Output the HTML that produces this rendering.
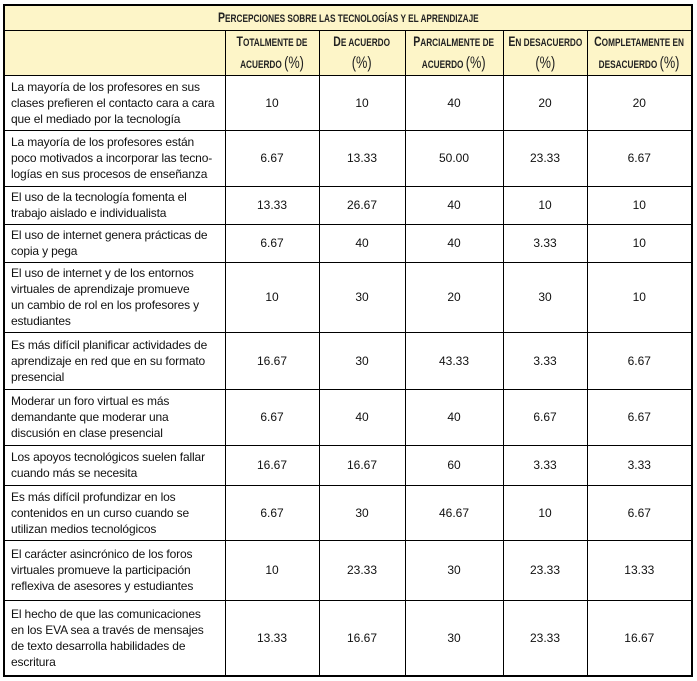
<!DOCTYPE html>
<html><head><meta charset="utf-8"><style>
body{margin:0;background:#fff;width:697px;height:681px;overflow:hidden}
table{position:absolute;left:3px;top:4px;width:688px;border-collapse:collapse;table-layout:fixed;border:2px solid #000;font-family:"Liberation Sans",sans-serif;font-size:12px;color:#111}
td{border:1px solid #000;padding:0 3px;text-align:center;line-height:16px;overflow:hidden;white-space:nowrap}
td.l{text-align:left;padding-left:6px;letter-spacing:-0.15px}
.hd td{background:#fdf5c8}
.h{font-weight:bold;font-size:11px;text-transform:uppercase;line-height:20px;color:#222}
.h span.c{display:block;width:133.33%;margin-left:-16.67%;transform:scaleX(0.75);transform-origin:center}
.h b{font-size:14px}
.h .p{font-weight:normal;font-size:17px}
</style></head><body>
<table>
<colgroup><col style="width:221px"><col style="width:94px"><col style="width:86px"><col style="width:98px"><col style="width:84px"><col style="width:105px"></colgroup>
<tr class="hd" style="height:25px"><td colspan="6" class="h"><span class="c"><b>P</b>ercepciones sobre las tecnologías y el aprendizaje</span></td></tr>
<tr class="hd" style="height:43px"><td></td><td class="h"><span class="c"><b>T</b>otalmente de<br>acuerdo <span class="p">(%)</span></span></td><td class="h"><span class="c"><b>D</b>e acuerdo<br><span class="p">(%)</span></span></td><td class="h"><span class="c"><b>P</b>arcialmente de<br>acuerdo <span class="p">(%)</span></span></td><td class="h"><span class="c"><b>E</b>n desacuerdo<br><span class="p">(%)</span></span></td><td class="h"><span class="c"><b>C</b>ompletamente en<br>desacuerdo <span class="p">(%)</span></span></td></tr>
<tr style="height:55px"><td class="l">La mayoría de los profesores en sus<br>clases prefieren el contacto cara a cara<br>que el mediado por la tecnología</td><td>10</td><td>10</td><td>40</td><td>20</td><td>20</td></tr>
<tr style="height:56px"><td class="l">La mayoría de los profesores están<br>poco motivados a incorporar las tecno-<br>logías en sus procesos de enseñanza</td><td>6.67</td><td>13.33</td><td>50.00</td><td>23.33</td><td>6.67</td></tr>
<tr style="height:38px"><td class="l">El uso de la tecnología fomenta el<br>trabajo aislado e individualista</td><td>13.33</td><td>26.67</td><td>40</td><td>10</td><td>10</td></tr>
<tr style="height:38px"><td class="l">El uso de internet genera prácticas de<br>copia y pega</td><td>6.67</td><td>40</td><td>40</td><td>3.33</td><td>10</td></tr>
<tr style="height:70px"><td class="l">El uso de internet y de los entornos<br>virtuales de aprendizaje promueve<br>un cambio de rol en los profesores y<br>estudiantes</td><td>10</td><td>30</td><td>20</td><td>30</td><td>10</td></tr>
<tr style="height:57px"><td class="l">Es más difícil planificar actividades de<br>aprendizaje en red que en su formato<br>presencial</td><td>16.67</td><td>30</td><td>43.33</td><td>3.33</td><td>6.67</td></tr>
<tr style="height:56px"><td class="l">Moderar un foro virtual es más<br>demandante que moderar una<br>discusión en clase presencial</td><td>6.67</td><td>40</td><td>40</td><td>6.67</td><td>6.67</td></tr>
<tr style="height:40px"><td class="l">Los apoyos tecnológicos suelen fallar<br>cuando más se necesita</td><td>16.67</td><td>16.67</td><td>60</td><td>3.33</td><td>3.33</td></tr>
<tr style="height:55px"><td class="l">Es más difícil profundizar en los<br>contenidos en un curso cuando se<br>utilizan medios tecnológicos</td><td>6.67</td><td>30</td><td>46.67</td><td>10</td><td>6.67</td></tr>
<tr style="height:60px"><td class="l">El carácter asincrónico de los foros<br>virtuales promueve la participación<br>reflexiva de asesores y estudiantes</td><td>10</td><td>23.33</td><td>30</td><td>23.33</td><td>13.33</td></tr>
<tr style="height:76px"><td class="l">El hecho de que las comunicaciones<br>en los EVA sea a través de mensajes<br>de texto desarrolla habilidades de<br>escritura</td><td>13.33</td><td>16.67</td><td>30</td><td>23.33</td><td>16.67</td></tr>
</table>
</body></html>
